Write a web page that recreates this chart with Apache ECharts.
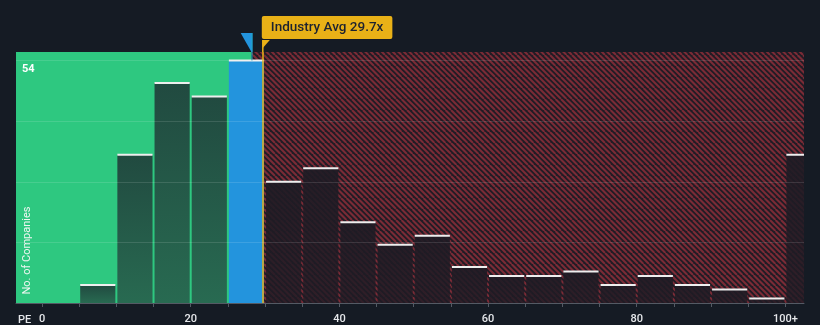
<!DOCTYPE html>
<html>
<head>
<meta charset="utf-8">
<script src="https://cdn.jsdelivr.net/npm/echarts@6/dist/echarts.min.js"></script>
<style>
html,body{margin:0;padding:0;background:#151b24;}
#chart{width:820px;height:325px;}
</style>
</head>
<body>
<div id="chart"></div>
<script>
// ---- data ----
const binStarts = [0,5,10,15,20,25,30,35,40,45,50,55,60,65,70,75,80,85,90,95,100];
const binWidth = 5;
const counts = [0,4,33,49,46,54,27,30,18,13,15,8,6,6,7,4,6,4,3,1,33];
const tickValues = [0,5,10,15,20,25,30,35,40,45,50,55,60,65,70,75,80,85,90,95,100];
const labelValues = [0,20,40,60,80,100];
const labelTexts = ['0','20','40','60','80','100+'];
const companyPE = 28.2;
const industryAvg = 29.7;
const yTopLabel = 54;
const xMin = -3.5, xMax = 102.5;
const yMax = 55.9;

function makeHatch(){
  const N = 11, P = 5.5;
  const c = document.createElement('canvas');
  c.width = N; c.height = N;
  const ctx = c.getContext('2d');
  ctx.fillStyle = '#201c25';
  ctx.fillRect(0,0,N,N);
  ctx.strokeStyle = '#7b2b36';
  ctx.lineWidth = 2;
  for (let k=-4;k<=4;k++){
    ctx.beginPath();
    ctx.moveTo(k*P, 0);
    ctx.lineTo(k*P+N, N);
    ctx.stroke();
  }
  return {image: c, repeat: 'repeat'};
}

const barData = binStarts.map((s,i)=>[s, s+binWidth, counts[i]]);

function renderBar(params, api){
  const s = api.value(0), e = api.value(1), v = api.value(2);
  if (!(v > 0)) return null;
  const p0 = api.coord([s, v]);
  const p1 = api.coord([e, 0]);
  const x = p0[0] + 1, w = p1[0] - p0[0] - 2;
  const y = p0[1], h = p1[1] - p0[1];
  let fill;
  if (s <= companyPE && companyPE < e) {
    fill = '#2394dd';
  } else if (e <= companyPE) {
    fill = new echarts.graphic.LinearGradient(0,0,0,1,[
      {offset:0,color:'#214a40'},{offset:1,color:'#286a51'}]);
  } else {
    fill = new echarts.graphic.LinearGradient(0,0,0,1,[
      {offset:0,color:'rgba(30,27,36,0.92)'},{offset:1,color:'rgba(30,27,36,0.8)'}]);
  }
  return {
    type:'group',
    children:[
      {type:'rect', shape:{x:x, y:y, width:w, height:h}, style:{fill:fill}},
      {type:'rect', shape:{x:x, y:y-1, width:w, height:2}, style:{fill:'#eeeeee'}}
    ]
  };
}

const chart = echarts.init(document.getElementById('chart'), null, {renderer:'canvas'});
const labelFont = {color:'#e6e8eb', fontSize:11, fontFamily:'Roboto', fontWeight:500};

chart.setOption({
  backgroundColor:'#151b24',
  animation:false,
  grid:{left:16, right:16, top:52, bottom:21, containLabel:false},
  xAxis:{
    type:'value', min:xMin, max:xMax, z:5,
    axisLine:{show:true, lineStyle:{color:'#545a64', width:1}},
    axisTick:{show:true, customValues:tickValues, length:4, lineStyle:{color:'#545a64'}},
    axisLabel:Object.assign({customValues:labelValues, margin:11,
      formatter:function(v){ const i = labelValues.indexOf(v); return i>=0 ? labelTexts[i] : ''; }}, labelFont),
    splitLine:{show:false}
  },
  yAxis:{
    type:'value', min:0, max:yMax, interval:13.5, z:5,
    axisLine:{show:false}, axisTick:{show:false},
    axisLabel:{show:true, inside:true, customValues:[yTopLabel], verticalAlign:'top', margin:6,
      color:'#ffffff', fontSize:11, fontFamily:'Roboto', fontWeight:'bold', padding:[3,0,0,0]},
    splitLine:{show:true, showMinLine:false, showMaxLine:false, lineStyle:{color:'rgba(255,255,255,0.12)', width:1}}
  },
  series:[
    {
      type:'line', data:[], z:1, silent:true,
      markArea:{
        silent:true,
        data:[
          [{xAxis:xMin, itemStyle:{color:'#2ec880'}}, {xAxis:companyPE}],
          [{xAxis:companyPE, itemStyle:{color:makeHatch()}}, {xAxis:xMax}]
        ]
      }
    },
    {
      type:'custom', z:2, clip:true, renderItem:renderBar, data:barData,
      encode:{x:[0,1], y:2},
      markLine:{
        silent:true, symbol:'none', z:4,
        label:{show:false},
        lineStyle:{color:'#e9b117', width:1.5, type:'solid'},
        data:[{xAxis:industryAvg}]
      }
    }
  ]
});

function placeAnnotations(){
  const ax = chart.convertToPixel({gridIndex:0}, [industryAvg, 0])[0];
  const cx = chart.convertToPixel({gridIndex:0}, [companyPE, 0])[0];
  const top = chart.convertToPixel({gridIndex:0}, [0, yMax])[1];
  const barTop = chart.convertToPixel({gridIndex:0}, [0, yTopLabel])[1];
  const base = chart.convertToPixel({gridIndex:0}, [0, 0])[1];
  chart.setOption({
    graphic:[
      {type:'line', shape:{x1:ax, y1:40, x2:ax, y2:top}, style:{stroke:'#e9b117', lineWidth:1.5}, z:10},
      {type:'polygon', shape:{points:[[ax-0.5,40],[ax+7,40],[ax,48]]}, style:{fill:'#e9b117'}, z:10},
      {type:'text', x:ax-1, y:16, z:11,
        style:{text:'Industry Avg '+industryAvg+'x', fill:'#1c2230', font:'500 13.5px Roboto',
          backgroundColor:'#e9b117', padding:[5,9,4,9], borderRadius:2}},
      {type:'polygon', shape:{points:[[cx-11,33],[cx+0.8,33],[cx+0.8,52],[cx-0.2,52]]}, style:{fill:'#2394dd'}, z:10},
      {type:'line', shape:{x1:cx+0.3, y1:33, x2:cx+0.3, y2:barTop}, style:{stroke:'#1fa8c9', lineWidth:1}, z:10},
      {type:'text', x:27, y:(top+base)/2 + 73, rotation:Math.PI/2, z:10,
        style:{text:'No. of Companies', fill:'#eef6f1', font:'11px Roboto', align:'center', verticalAlign:'middle'}},
      {type:'text', x:18, y:base+17, z:10,
        style:{text:'PE', fill:'#e6e8eb', font:'500 11px Roboto', verticalAlign:'middle'}}
    ]
  });
}
placeAnnotations();
</script>
</body>
</html>
